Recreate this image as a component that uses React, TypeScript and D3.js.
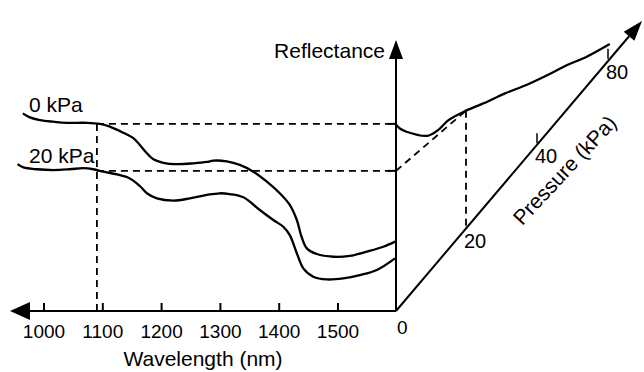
import React from "react";
import { scaleLinear, line, curveCatmullRom } from "d3";

// wavelength (nm) / reflectance (arb. %)
const wl0 = [964, 976, 993, 1016, 1039, 1073, 1095, 1112, 1135, 1152, 1163, 1175, 1186, 1203, 1226, 1254, 1277, 1288, 1311, 1333, 1356, 1379, 1401, 1418, 1430, 1438, 1447, 1464, 1492, 1520, 1549, 1577, 1597];
const r0 = [73.2, 71.7, 70.7, 70.1, 69.7, 69.7, 69.3, 68.3, 66.0, 64.0, 61.5, 58.4, 56.2, 54.9, 54.4, 54.7, 55.2, 55.7, 55.4, 54.1, 51.6, 47.9, 43.6, 39.3, 33.7, 27.5, 23.2, 21.1, 20.1, 20.4, 22.0, 23.8, 25.7];
const wl20 = [955, 965, 988, 1016, 1044, 1067, 1084, 1101, 1124, 1146, 1163, 1175, 1192, 1220, 1248, 1277, 1299, 1316, 1339, 1367, 1390, 1407, 1418, 1430, 1441, 1458, 1481, 1509, 1537, 1566, 1597];
const r20 = [54.4, 53.2, 52.5, 52.2, 52.5, 52.9, 52.5, 51.6, 50.6, 49.1, 46.3, 43.6, 41.7, 40.9, 41.7, 43.0, 43.6, 43.3, 42.1, 37.4, 33.7, 31.2, 28.1, 21.4, 15.8, 12.7, 11.7, 12.1, 13.3, 15.2, 19.5];

// reflectance at 1090 nm vs pressure (kPa)
const pCurve = [0, 1, 3, 9, 12, 15, 20, 26, 31, 37, 46, 57, 68, 81];
const rCurve = [69.1, 67.7, 66.4, 64.9, 67.0, 70.7, 74.2, 77.5, 80.6, 83.7, 87.4, 91.1, 94.2, 98.9];

const wlTicks = [1000, 1100, 1200, 1300, 1400, 1500];
const pressureTicks = [20, 40, 80];
const markWl = 1090;
const level0 = 69.3;
const level20 = 51.9;

const W = 644;
const H = 372;
const ox = 396;
const oy = 311;
const slope = 1.19;
const font = "'Liberation Sans', Arial, sans-serif";

export default function App() {
  const xW = scaleLinear().domain([1000, 1500]).range([44, 338]);
  const yR = scaleLinear().domain([0, 100]).range([oy, 41]);
  const xP = scaleLinear().domain([0, 20, 40, 80]).range([ox, 466, 537, 608]);
  const pY = (x: number) => oy - (x - ox) * slope;

  const wlLine = line<[number, number]>()
    .x((d) => xW(d[0]))
    .y((d) => yR(d[1]))
    .curve(curveCatmullRom);
  const pLine = line<[number, number]>()
    .x((d) => xP(d[0]))
    .y((d) => yR(d[1]))
    .curve(curveCatmullRom);

  const c0 = wl0.map((w, i) => [w, r0[i]] as [number, number]);
  const c20 = wl20.map((w, i) => [w, r20[i]] as [number, number]);
  const cp = pCurve.map((p, i) => [p, rCurve[i]] as [number, number]);

  const r20at = rCurve[pCurve.indexOf(20)];
  const dash = "7 5";
  const tipX = 642;
  const tipY = 21;
  const ang = Math.atan2(oy - tipY, tipX - ox);
  const aL = 20;
  const aW = 7;
  const bx = tipX - aL * Math.cos(ang);
  const by = tipY + aL * Math.sin(ang);
  const nx = Math.sin(ang) * aW;
  const ny = Math.cos(ang) * aW;

  return (
    <svg
      width={W}
      height={H}
      style={{ position: "fixed", left: 0, top: 0, background: "#fff" }}
      fontFamily={font}
    >
      {/* dashed guides */}
      <g stroke="#000" strokeWidth={1.8} strokeDasharray={dash} fill="none">
        <line x1={xW(markWl)} x2={ox} y1={yR(level0)} y2={yR(level0)} />
        <line x1={xW(markWl)} x2={ox} y1={yR(level20)} y2={yR(level20)} />
        <line x1={xW(markWl)} x2={xW(markWl)} y1={yR(level0)} y2={oy} />
        <line x1={ox} y1={yR(level20)} x2={xP(20)} y2={yR(r20at)} />
        <line x1={xP(20)} x2={xP(20)} y1={yR(r20at)} y2={pY(xP(20))} />
      </g>

      {/* axes */}
      <g stroke="#000" strokeWidth={2} fill="none">
        <line x1={ox} y1={oy} x2={28} y2={oy} />
        <line x1={ox} y1={oy} x2={ox} y2={56} />
        <line x1={ox} y1={oy} x2={bx} y2={by} />
        {wlTicks.map((t) => (
          <line key={t} x1={xW(t)} x2={xW(t)} y1={oy} y2={oy - 8} />
        ))}
        {[level0, level20].map((l) => (
          <line key={l} x1={ox - 8} x2={ox} y1={yR(l)} y2={yR(l)} />
        ))}
        {pressureTicks
          .filter((t) => t !== 20)
          .map((t) => (
            <line key={t} x1={xP(t)} x2={xP(t)} y1={pY(xP(t))} y2={pY(xP(t)) - 10} strokeWidth={1.5} />
          ))}
      </g>
      <path d={`M10,${oy} L30,${oy - 9} L30,${oy + 9} Z`} fill="#000" />
      <path d={`M${ox},40 L${ox - 7},59 L${ox + 7},59 Z`} fill="#000" />
      <path d={`M${tipX},${tipY} L${bx + nx},${by + ny} L${bx - nx},${by - ny} Z`} fill="#000" />

      {/* curves */}
      <g stroke="#000" strokeWidth={2.3} fill="none" strokeLinejoin="round">
        <path d={wlLine(c0) || ""} />
        <path d={wlLine(c20) || ""} />
        <path d={pLine(cp) || ""} />
      </g>

      {/* text */}
      <g fill="#000" fontSize={19}>
        {wlTicks.map((t) => (
          <text key={t} x={xW(t)} y={338} textAnchor="middle">
            {t}
          </text>
        ))}
        <text x={397} y={334}>0</text>
        {pressureTicks.map((t) => (
          <text key={t} x={xP(t) - 2} y={pY(xP(t)) + 20} fontSize={20}>
            {t}
          </text>
        ))}
      </g>
      <g fill="#000" fontSize={21}>
        <text x={203} y={366} textAnchor="middle">Wavelength (nm)</text>
        <text x={385} y={58} textAnchor="end">Reflectance</text>
        <text x={29} y={112}>0 kPa</text>
        <text x={29} y={163}>20 kPa</text>
        <text
          x={570}
          y={175}
          textAnchor="middle"
          transform={`rotate(-47, 570, 175)`}
        >
          Pressure (kPa)
        </text>
      </g>
    </svg>
  );
}
